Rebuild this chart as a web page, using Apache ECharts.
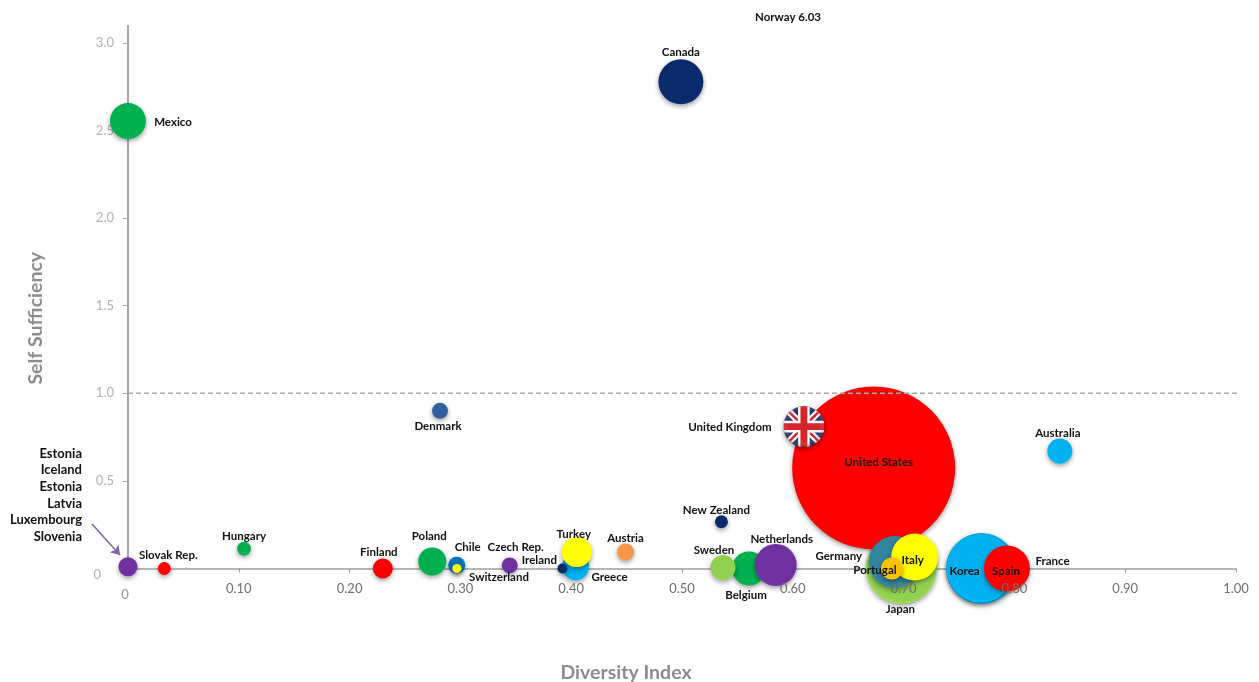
<!DOCTYPE html>
<html>
<head>
<meta charset="utf-8">
<style>html,body{margin:0;padding:0;background:#fff}#chart{width:1259px;height:682px}</style>
<script src="https://cdn.jsdelivr.net/npm/echarts@6/dist/echarts.min.js"></script>
</head>
<body>
<div id="chart"></div>
<script>
// Energy supply by country: diversity index against self sufficiency, bubble area = supply.
// Listed in painting order, so later countries sit on top of earlier ones.
const countries = ['Mexico','Canada','Denmark','Japan','United States','United Kingdom','Australia','France','Korea','Spain','Germany','Italy','Portugal','Belgium','Sweden','Netherlands','New Zealand','Austria','Greece','Turkey','Ireland','Czech Rep.','Chile','Switzerland','Poland','Finland','Hungary','Slovak Rep.','Estonia'];
const diversityIndex = [0,0.499,0.2816,0.698,0.673,0.610,0.841,0.7703,0.7695,0.7933,0.692,0.710,0.6895,0.5605,0.537,0.5846,0.5356,0.449,0.404,0.405,0.392,0.3445,0.2967,0.2969,0.2746,0.230,0.1047,0.0328,0];
const selfSufficiency = [2.554,2.778,0.90,0.0,0.574,0.81,0.67,0.0,0.0,0.0,0.037,0.065,0.0,0.0,0.005,0.02,0.267,0.094,0.01,0.094,0.0,0.018,0.018,0.0,0.04,0.0,0.113,0.0,0.01];
const energySupply = [107,168,21,417,2200,139,52,417,383,175,224,183,40,96,52,146,14,24,60,75,8,21,24,7,65,33,16,14,30];
const fillColors = ['#00b050','#0b2a6b','#2f5f9e','#92d050','#ff0000','#ffffff','#00b0f0','#00b0f0','#00b0f0','#ff0000','#31859c','#ffff00','#ffc000','#00b050','#92d050','#7030a0','#0b2a6b','#f79646','#00b0f0','#ffff00','#0b2a6b','#7030a0','#0070c0','#ffff00','#00b050','#ff0000','#00b050','#ff0000','#7030a0'];
const diversityTicks = [0,0.1,0.2,0.3,0.4,0.5,0.6,0.7,0.8,0.9,1.0];
const sufficiencyTicks = [0,0.5,1.0,1.5,2.0,2.5,3.0];
const sharedPointNames = ['Estonia','Iceland','Estonia','Latvia','Luxembourg','Slovenia'];
const offScaleNote = 'Norway 6.03';
const balanceLine = [[0,1],[1.01,1]];

// Label anchor relative to each bubble's centre.
const labelShift = {
  'Mexico':[45,1],'Canada':[0,-30],'Denmark':[-2,15],'United States':[5,-6],'United Kingdom':[-74,0],
  'Australia':[-2,-18],'France':[71,-8],'Korea':[-16,2],'Spain':[-1,2],'Japan':[-1,40],'Germany':[-56,-6],
  'Italy':[-2,3],'Portugal':[-17,1],'Belgium':[-3,26],'Sweden':[-9,-18],'Netherlands':[6,-26],
  'New Zealand':[-5,-12],'Austria':[0,-14],'Greece':[34,10],'Turkey':[-3,-18],'Ireland':[-23,-9],
  'Czech Rep.':[6,-19],'Chile':[11,-19],'Switzerland':[42,8],'Poland':[-3,-26],'Finland':[-4,-17],
  'Hungary':[0,-13],'Slovak Rep.':[4,-14],'Estonia':[-46,-72]
};

const FONT = 'Lato, "Open Sans", sans-serif';
const INK = '#111111';

// Union Jack disc used as the United Kingdom marker.
const flagSvg = `<svg xmlns="http://www.w3.org/2000/svg" width="120" height="120" viewBox="0 0 60 60">
<defs><clipPath id="c"><circle cx="30" cy="30" r="30"/></clipPath>
<radialGradient id="g" cx="50%" cy="45%" r="55%"><stop offset="70%" stop-color="#fff" stop-opacity="0"/><stop offset="100%" stop-color="#222" stop-opacity=".35"/></radialGradient></defs>
<g clip-path="url(#c)"><rect width="60" height="60" fill="#27336b"/>
<path d="M0 0L60 60M60 0L0 60" stroke="#fff" stroke-width="10"/>
<path d="M0 0L60 60M60 0L0 60" stroke="#d8232a" stroke-width="3.5"/>
<path d="M30 0V60M0 30H60" stroke="#fff" stroke-width="17"/>
<path d="M30 0V60M0 30H60" stroke="#d8232a" stroke-width="10"/>
<rect width="60" height="60" fill="url(#g)"/></g></svg>`;
const flagSymbol = 'image://data:image/svg+xml;charset=utf-8,' + encodeURIComponent(flagSvg);

// Flat fill with a slightly darker bevel near the rim.
function bevel(color) {
  const rim = echarts.color.lift(color, -0.1);
  return {
    type: 'radial', x: 0.5, y: 0.48, r: 0.53,
    colorStops: [{offset: 0, color}, {offset: 0.88, color}, {offset: 1, color: rim}]
  };
}

const points = countries.map((name, i) => {
  const shift = labelShift[name];
  const shared = name === 'Estonia';
  const item = {
    name,
    value: [diversityIndex[i], selfSufficiency[i], energySupply[i]],
    itemStyle: {color: bevel(fillColors[i])},
    label: {
      offset: [shift[0], shift[1] + 0.5],
      align: shared ? 'right' : 'center',
      fontSize: shared ? 13 : 11.5,
      lineHeight: shared ? 16.7 : 14,
      formatter: shared ? sharedPointNames.join('\n') : name
    }
  };
  if (name === 'United Kingdom') item.symbol = flagSymbol;
  return item;
});

const option = {
  animation: false,
  backgroundColor: '#fff',
  textStyle: {fontFamily: FONT},
  grid: {left: 128, top: 26, width: 1108, height: 542.5, containLabel: false, outerBoundsMode: 'none'},
  xAxis: [{
    type: 'value', min: 0, max: 1, name: 'Diversity Index', nameLocation: 'middle', nameGap: 94,
    nameTextStyle: {color: '#8c8c8c', fontSize: 19.5, fontWeight: 'bold', fontFamily: FONT, padding: [0, 112, 0, 0]},
    splitLine: {show: false},
    axisLine: {onZero: false, lineStyle: {color: '#9f9f9f', width: 1.5}},
    axisTick: {show: true, customValues: diversityTicks, length: 4, lineStyle: {color: '#9f9f9f'}},
    axisLabel: {show: false}
  }, {
    // Tick labels on their own axis so they print over the bubbles.
    type: 'value', min: 0, max: 1, position: 'bottom', z: 5,
    splitLine: {show: false}, axisLine: {show: false}, axisTick: {show: false},
    axisLabel: {
      show: true, customValues: diversityTicks, color: '#6e6e6e', fontSize: 13, margin: 14, fontFamily: FONT,
      formatter: v => v === 0 ? '{zero|0}' : v.toFixed(2),
      rich: {zero: {padding: [6, 6, 0, 0], color: '#9a9a9a', fontFamily: FONT, fontSize: 13}}
    }
  }],
  yAxis: {
    type: 'value', min: 0, max: 3.0965, name: 'Self Sufficiency', nameLocation: 'middle', nameGap: 82,
    nameTextStyle: {color: '#8c8c8c', fontSize: 19.5, fontWeight: 'bold', fontFamily: FONT, padding: [0, 42, 0, 0]},
    splitLine: {show: false},
    axisLine: {lineStyle: {color: '#a6a6a6', width: 2}},
    axisTick: {show: true, customValues: sufficiencyTicks, length: 5, lineStyle: {color: '#a6a6a6'}},
    axisLabel: {
      customValues: sufficiencyTicks, color: '#b0b0b0', fontSize: 13, margin: 14, fontFamily: FONT,
      formatter: v => v === 0 ? '{zero|0}' : v.toFixed(1),
      rich: {zero: {padding: [12, 13, 0, 0], color: '#b0b0b0', fontFamily: FONT, fontSize: 13}}
    }
  },
  graphic: [{
    type: 'text', left: 755, top: 11, z: 10,
    style: {text: offScaleNote, fill: INK, font: 'bold 11.5px ' + FONT}
  }],
  series: [{
    type: 'scatter',
    clip: false,
    data: points,
    symbolSize: v => Math.sqrt(v[2]) * 3.475,
    itemStyle: {shadowBlur: 5, shadowOffsetY: 2, shadowColor: 'rgba(0,0,0,0.4)', opacity: 1},
    label: {show: true, position: 'inside', color: INK, fontFamily: FONT, fontWeight: 'bold'},
    emphasis: {disabled: true},
    markLine: {
      silent: true,
      animation: false,
      label: {show: false},
      data: [
        // Pointer from the list of countries to their shared bubble.
        [{x: 92, y: 524, symbol: 'none', lineStyle: {color: '#8064a2', width: 1.5, type: 'solid'}},
         {x: 120, y: 555, symbol: 'arrow', symbolSize: 9}]
      ]
    }
  }, {
    // Self sufficiency = 1: the point where supply meets demand.
    type: 'line',
    clip: false,
    z: 4,
    silent: true,
    showSymbol: false,
    data: balanceLine,
    lineStyle: {color: '#a8a8a8', width: 1.5, type: [5, 3]}
  }]
};

echarts.init(document.getElementById('chart'), null, {renderer: 'canvas'}).setOption(option);
</script>
</body>
</html>
